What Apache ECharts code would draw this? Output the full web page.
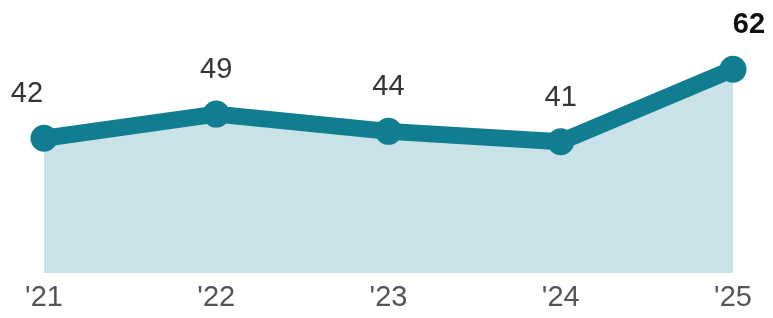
<!DOCTYPE html>
<html>
<head>
<meta charset="utf-8">
<script src="https://cdn.jsdelivr.net/npm/echarts@6/dist/echarts.min.js"></script>
<style>
    html,body{margin:0;padding:0;background:#fff;}
    #linechart{width:773px;height:318px;}
</style>
</head>
<body>
<div id="linechart"></div>
<script>
// chart data
var years = ["'21", "'22", "'23", "'24", "'25"]
var values = [42, 49, 44, 41, 62]

var lineColor = '#117d90'
var areaColor = '#c9e2e7'

var chart = echarts.init(document.getElementById('linechart'))

// first and last labels sit a bit off the point, last one is bold
var seriesData = values.map(function(v, i){
    var item = {value: v}
    if(i == 0){
        item.label = {offset: [-17, 0]}
    }
    if(i == values.length - 1){
        item.label = {offset: [16, 0], fontWeight: 'bold', color: '#111'}
    }
    return item
})

var options = {
    animation: false,
    grid: {
        left: 44,
        right: 40,
        top: 7,
        bottom: 45
    },
    xAxis: {
        type: 'category',
        data: years,
        boundaryGap: false,
        axisLine: {show: false},
        axisTick: {show: false},
        splitLine: {show: false},
        axisLabel: {
            color: '#555',
            fontFamily: 'Liberation Sans',
            fontSize: 29,
            margin: 10
        }
    },
    yAxis: {
        type: 'value',
        min: 3,
        max: 80,
        show: false,
        splitLine: {show: false}
    },
    series: [{
        type: 'line',
        data: seriesData,
        symbol: 'circle',
        symbolSize: 27,
        itemStyle: {color: lineColor},
        lineStyle: {color: lineColor, width: 17},
        areaStyle: {color: areaColor, opacity: 1},
        label: {
            show: true,
            position: 'top',
            distance: 16,
            color: '#333',
            fontFamily: 'Liberation Sans',
            fontSize: 29
        }
    }]
}

chart.setOption(options)
</script>
</body>
</html>
